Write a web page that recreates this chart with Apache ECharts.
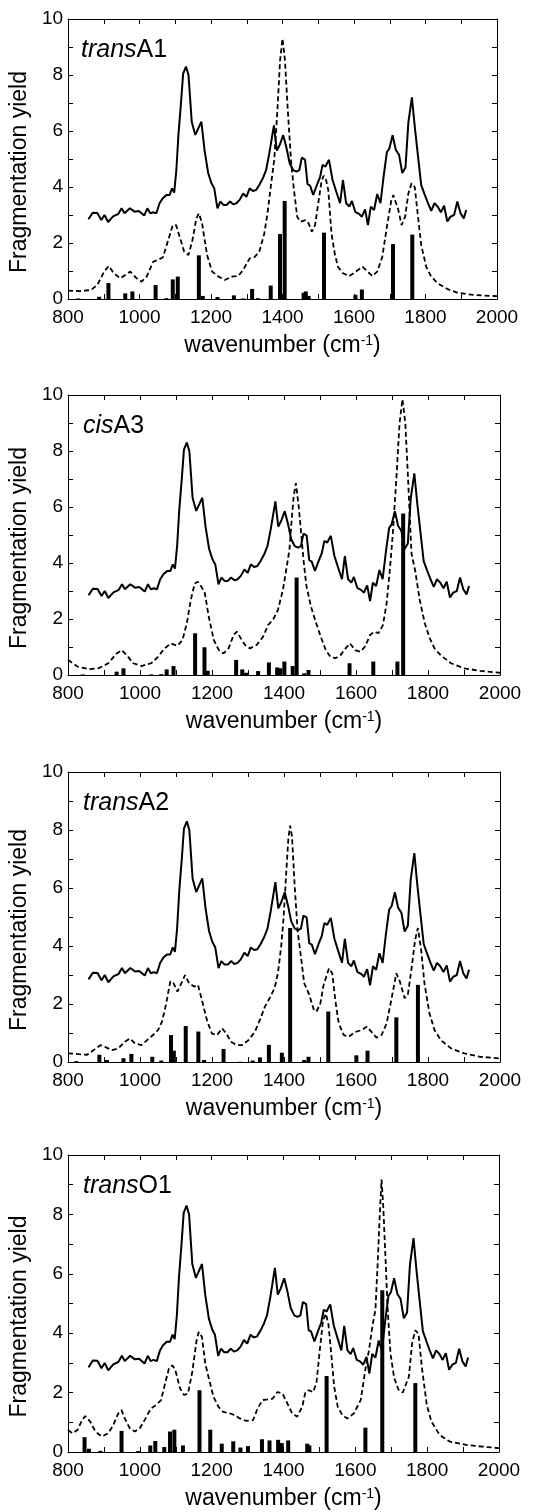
<!DOCTYPE html>
<html>
<head>
<meta charset="utf-8">
<script src="https://cdn.jsdelivr.net/npm/echarts@6/dist/echarts.min.js"></script>
<style>
  html, body { margin: 0; padding: 0; background: #fff; }
  #chart { width: 545px; height: 1512px; }
</style>
</head>
<body>
<div id="chart"></div>
<script>
// measured IRMPD spectrum (same trace in every panel)
var exptSpectrum = [[857,2.85],[869,3.08],[882,3.07],[893,2.82],[902,3.0],[912,2.75],[926,2.95],[940,3.03],[950,3.24],[958,3.06],[973,3.24],[986,3.12],[998,3.14],[1013,2.98],[1022,3.24],[1030,3.06],[1038,3.1],[1047,3.06],[1056,3.42],[1065,3.6],[1075,3.71],[1084,3.71],[1091,3.95],[1097,3.8],[1103,4.6],[1109,5.9],[1116,7.0],[1122,8.05],[1130,8.3],[1137,8.0],[1146,6.33],[1156,5.86],[1173,6.33],[1182,5.3],[1192,4.5],[1201,4.14],[1209,3.95],[1218,3.24],[1226,3.48],[1235,3.36],[1244,3.36],[1253,3.48],[1262,3.38],[1271,3.42],[1280,3.54],[1290,3.77],[1299,3.65],[1308,3.95],[1317,3.86],[1326,3.89],[1335,4.07],[1345,4.31],[1354,4.6],[1363,5.2],[1376,6.2],[1384,5.3],[1392,5.5],[1402,5.85],[1411,5.4],[1420,4.85],[1430,4.6],[1439,4.55],[1447,4.6],[1454,5.05],[1463,4.98],[1470,4.1],[1477,4.05],[1486,3.72],[1496,4.07],[1505,4.35],[1512,4.79],[1520,4.73],[1530,4.97],[1540,4.25],[1550,3.85],[1561,3.42],[1569,4.25],[1578,3.42],[1587,3.3],[1594,3.5],[1604,3.1],[1613,3.05],[1622,2.94],[1631,3.2],[1639,2.64],[1647,3.3],[1656,3.18],[1665,3.75],[1674,3.42],[1683,4.4],[1692,5.25],[1699,5.38],[1708,5.85],[1717,5.32],[1726,5.15],[1735,4.5],[1744,4.7],[1752,6.3],[1762,7.2],[1770,6.15],[1779,5.1],[1788,4.07],[1798,3.72],[1807,3.42],[1816,3.15],[1825,3.42],[1834,3.3],[1843,3.1],[1852,3.33],[1861,2.77],[1870,2.94],[1880,3.0],[1889,3.48],[1898,3.06],[1907,2.88],[1914,3.18]];

// computed spectra (dashed, broadened)
var calcTransA1 = [[800,0.3],[832,0.28],[864,0.32],[882,0.5],[901,0.98],[914,1.18],[928,0.92],[946,0.74],[960,0.86],[974,0.98],[992,0.74],[1006,0.62],[1020,0.8],[1038,1.33],[1052,1.4],[1065,1.48],[1079,2.05],[1093,2.64],[1102,2.64],[1111,2.28],[1125,1.69],[1137,1.57],[1148,2.1],[1159,2.88],[1166,3.06],[1175,2.7],[1189,1.57],[1203,0.98],[1221,0.8],[1239,0.68],[1258,0.8],[1276,0.82],[1290,1.04],[1308,1.45],[1322,1.5],[1335,1.69],[1349,2.34],[1358,3.06],[1367,4.0],[1377,5.0],[1386,6.8],[1393,8.5],[1400,9.3],[1407,8.5],[1414,6.9],[1424,4.9],[1432,3.9],[1441,2.94],[1450,2.76],[1464,2.82],[1473,2.7],[1482,2.4],[1491,2.64],[1500,3.42],[1509,4.2],[1515,4.4],[1521,4.3],[1528,3.89],[1537,2.34],[1546,1.63],[1555,1.15],[1569,0.92],[1587,0.82],[1605,0.98],[1624,1.15],[1638,0.98],[1651,0.82],[1665,0.98],[1679,1.5],[1692,2.58],[1704,3.5],[1710,3.71],[1724,3.18],[1733,2.64],[1743,2.94],[1752,3.77],[1761,4.13],[1770,4.0],[1779,2.94],[1788,1.93],[1802,1.15],[1816,0.8],[1834,0.56],[1862,0.35],[1889,0.23],[1917,0.17],[1963,0.12],[2000,0.1]];
var calcCisA3 = [[800,0.54],[826,0.3],[858,0.21],[885,0.24],[912,0.42],[935,0.77],[949,0.89],[963,0.71],[981,0.42],[1004,0.32],[1031,0.42],[1050,0.65],[1068,0.95],[1086,1.13],[1104,1.04],[1118,1.25],[1130,1.85],[1141,2.68],[1152,3.27],[1161,3.33],[1173,3.1],[1180,2.92],[1191,2.08],[1205,1.25],[1219,0.89],[1232,0.77],[1246,0.95],[1260,1.43],[1269,1.55],[1280,1.31],[1292,1.07],[1305,0.95],[1324,1.07],[1342,1.37],[1356,1.79],[1369,1.96],[1383,2.32],[1397,3.04],[1406,3.75],[1415,4.46],[1421,5.5],[1427,6.4],[1433,6.85],[1441,6.0],[1448,5.0],[1455,4.0],[1462,3.2],[1475,2.44],[1488,1.9],[1502,1.37],[1516,0.89],[1529,0.65],[1543,0.6],[1557,0.71],[1571,0.95],[1583,1.13],[1598,0.89],[1612,0.83],[1625,1.01],[1639,1.43],[1651,1.55],[1662,1.49],[1675,1.79],[1685,2.56],[1694,3.75],[1702,5.0],[1712,7.0],[1721,9.0],[1729,9.85],[1737,9.0],[1745,6.9],[1754,4.35],[1764,3.75],[1777,2.68],[1791,1.85],[1805,1.31],[1818,0.95],[1837,0.68],[1864,0.42],[1900,0.24],[1945,0.15],[2000,0.08]];
var calcTransA2 = [[800,0.3],[830,0.27],[853,0.25],[871,0.41],[890,0.58],[903,0.52],[922,0.41],[940,0.47],[958,0.7],[972,0.81],[986,0.64],[1004,0.58],[1022,0.78],[1036,0.93],[1050,1.1],[1061,1.39],[1072,1.97],[1084,2.77],[1091,2.77],[1104,2.43],[1115,2.72],[1125,3.0],[1136,2.72],[1150,2.6],[1161,2.66],[1173,2.08],[1187,1.39],[1200,0.98],[1214,0.93],[1228,1.16],[1240,0.98],[1252,0.7],[1269,0.58],[1283,0.58],[1301,0.75],[1319,1.04],[1333,1.45],[1347,1.91],[1360,2.2],[1374,2.55],[1383,3.06],[1392,3.97],[1399,5.0],[1406,6.5],[1412,7.7],[1417,8.15],[1422,7.8],[1430,6.0],[1438,4.5],[1447,3.63],[1456,2.72],[1470,2.32],[1483,1.79],[1490,1.74],[1501,2.02],[1510,2.66],[1525,3.23],[1534,3.06],[1543,2.08],[1552,1.33],[1566,0.93],[1580,0.87],[1598,1.04],[1616,1.1],[1630,1.22],[1643,1.04],[1657,0.84],[1671,0.93],[1685,1.33],[1699,2.2],[1712,3.06],[1722,2.77],[1735,2.2],[1744,2.32],[1755,3.29],[1764,4.2],[1772,4.62],[1781,3.86],[1790,2.72],[1804,1.68],[1818,1.1],[1836,0.75],[1864,0.47],[1900,0.3],[1945,0.18],[2000,0.12]];
var calcTransO1 = [[800,0.74],[812,0.63],[826,0.74],[839,1.07],[848,1.21],[862,1.02],[876,0.69],[894,0.52],[912,0.63],[926,0.91],[940,1.3],[949,1.41],[958,1.13],[972,0.8],[986,0.69],[1000,0.8],[1013,1.07],[1031,1.47],[1045,1.58],[1059,1.75],[1068,2.2],[1081,2.81],[1091,2.92],[1100,2.7],[1112,2.14],[1123,1.92],[1134,1.97],[1146,2.7],[1158,3.76],[1164,4.04],[1173,3.87],[1182,2.98],[1191,2.53],[1205,1.86],[1219,1.52],[1232,1.35],[1251,1.3],[1264,1.24],[1278,1.13],[1296,1.05],[1315,1.07],[1328,1.47],[1342,1.75],[1356,1.77],[1370,1.8],[1383,2.02],[1397,1.97],[1411,1.63],[1424,1.3],[1438,1.19],[1452,1.52],[1461,2.02],[1470,2.08],[1483,2.02],[1492,2.36],[1501,3.43],[1510,4.43],[1518,4.66],[1525,4.3],[1532,3.43],[1541,2.2],[1551,1.52],[1564,1.24],[1578,1.13],[1596,1.3],[1615,1.75],[1629,2.87],[1638,3.43],[1647,4.2],[1656,4.8],[1662,6.3],[1668,8.0],[1673,9.17],[1678,8.2],[1683,6.8],[1690,4.8],[1698,3.3],[1708,2.5],[1720,2.1],[1732,2.0],[1749,2.53],[1758,3.65],[1767,4.1],[1776,3.98],[1785,2.87],[1799,1.58],[1812,1.02],[1835,0.57],[1863,0.35],[1909,0.24],[1954,0.18],[2000,0.13]];

// stick spectra (harmonic frequencies / intensities)
var stickTransA1 = [[829,0.02],[887,0.08],[913,0.57],[960,0.2],[980,0.27],[1045,0.5],[1075,0.03],[1093,0.7],[1107,0.8],[1166,1.56],[1177,0.11],[1218,0.07],[1264,0.13],[1290,0.02],[1315,0.36],[1331,0.03],[1367,0.48],[1393,2.32],[1406,3.5],[1459,0.22],[1465,0.27],[1473,0.11],[1516,2.37],[1604,0.15],[1622,0.34],[1709,1.96],[1763,2.3]];
var stickCisA3 = [[841,0.02],[935,0.12],[954,0.24],[1031,0.02],[1059,0.03],[1074,0.2],[1093,0.32],[1153,1.49],[1179,0.99],[1188,0.15],[1267,0.54],[1284,0.2],[1295,0.08],[1328,0.14],[1358,0.45],[1381,0.27],[1390,0.24],[1401,0.48],[1424,0.32],[1435,3.48],[1456,0.06],[1468,0.18],[1582,0.42],[1648,0.48],[1715,0.48],[1731,5.77]];
var stickTransA2 = [[823,0.03],[887,0.25],[908,0.07],[954,0.13],[976,0.28],[1034,0.18],[1059,0.05],[1086,0.93],[1094,0.39],[1127,1.24],[1162,1.05],[1178,0.07],[1232,0.45],[1278,0.01],[1313,0.05],[1333,0.16],[1358,0.59],[1394,0.32],[1417,4.62],[1456,0.07],[1468,0.18],[1523,1.74],[1601,0.23],[1632,0.39],[1712,1.54],[1772,2.66]];
var stickTransO1 = [[846,0.5],[858,0.11],[890,0.04],[949,0.71],[995,0.03],[1029,0.22],[1043,0.37],[1068,0.17],[1084,0.69],[1096,0.75],[1120,0.22],[1166,2.08],[1196,0.75],[1228,0.28],[1260,0.36],[1280,0.15],[1301,0.2],[1340,0.43],[1361,0.39],[1385,0.41],[1395,0.3],[1413,0.39],[1466,0.28],[1472,0.22],[1520,2.56],[1628,0.82],[1675,5.45],[1767,2.32]];

// panel labels: italic prefix + isomer name
var labelPrefix = ['trans', 'cis', 'trans', 'trans'];
var labelName = ['A1', 'A3', 'A2', 'O1'];
var calcSpectra = [calcTransA1, calcCisA3, calcTransA2, calcTransO1];
var stickSpectra = [stickTransA1, stickCisA3, stickTransA2, stickTransO1];

var xRange = [800, 2000];
var yRange = [0, 10];

var FONT = 'Liberation Sans, Arial, Helvetica, sans-serif';
// plot areas
var layout = [
    {left: 60, top: 19, width: 437, height: 280},
    {left: 62, top: 395, width: 438, height: 280},
    {left: 62, top: 772, width: 438, height: 290},
    {left: 62, top: 1155, width: 437, height: 297}
];

var chart = echarts.init(document.getElementById('chart'));

var grids = [], xAxes = [], yAxes = [], series = [], titles = [];
var tick = {inside: true, length: 5, lineStyle: {color: '#000', width: 1}};
var line = {show: true, onZero: false, lineStyle: {color: '#000', width: 1}};

for (var i = 0; i < 4; i++) {
    var g = layout[i];
    grids.push({left: g.left, top: g.top, width: g.width, height: g.height, containLabel: false});

    // bottom x axis with labels
    xAxes.push({
        gridIndex: i, type: 'value', position: 'bottom',
        min: xRange[0], max: xRange[1], interval: 100,
        axisLine: line, axisTick: tick, splitLine: {show: false},
        axisLabel: {
            color: '#000', fontSize: 19, fontFamily: FONT, margin: 9,
            formatter: function (v) { return v % 200 === 0 ? String(v) : ''; }
        },
        name: '{a|wavenumber (cm}{s|-1}{a|)}',
        nameLocation: 'middle', nameGap: 35,
        nameTextStyle: {
            rich: {
                a: {fontSize: 23, fontFamily: FONT, color: '#000'},
                s: {fontSize: 14, fontFamily: FONT, color: '#000', verticalAlign: 'top'}
            }
        }
    });
    // top x axis, frame only
    xAxes.push({
        gridIndex: i, type: 'value', position: 'top',
        min: xRange[0], max: xRange[1], interval: 100,
        axisLine: line, axisTick: tick, axisLabel: {show: false}, splitLine: {show: false}
    });
    // left y axis
    yAxes.push({
        gridIndex: i, type: 'value', position: 'left',
        min: yRange[0], max: yRange[1], interval: 1,
        axisLine: line, axisTick: tick, splitLine: {show: false},
        axisLabel: {
            color: '#000', fontSize: 19, fontFamily: FONT, margin: 5,
            formatter: function (v) { return v % 2 === 0 ? String(v) : ''; }
        },
        name: 'Fragmentation yield', nameLocation: 'middle', nameGap: 28,
        nameTextStyle: {fontSize: 23, fontFamily: FONT, color: '#000', padding: [0, 26, 0, 0]}
    });
    // right y axis, frame only
    yAxes.push({
        gridIndex: i, type: 'value', position: 'right',
        min: yRange[0], max: yRange[1], interval: 1,
        axisLine: line, axisTick: tick, axisLabel: {show: false}, splitLine: {show: false}
    });

    series.push({
        type: 'bar', xAxisIndex: 2 * i, yAxisIndex: 2 * i,
        data: stickSpectra[i], barWidth: 4,
        itemStyle: {color: '#000'}, silent: true
    });
    series.push({
        type: 'line', xAxisIndex: 2 * i, yAxisIndex: 2 * i,
        data: calcSpectra[i], symbol: 'none',
        lineStyle: {color: '#000', width: 1.8, type: [5, 3]}
    });
    series.push({
        type: 'line', xAxisIndex: 2 * i, yAxisIndex: 2 * i,
        data: exptSpectrum, symbol: 'none',
        lineStyle: {color: '#000', width: 2}
    });

    titles.push({
        text: '{i|' + labelPrefix[i] + '}{n|' + labelName[i] + '}',
        left: g.left + 21, top: g.top + 19, padding: 0,
        textStyle: {
            fontWeight: 'normal',
            rich: {
                i: {fontSize: 25, fontStyle: 'italic', fontWeight: 'normal', fontFamily: FONT, color: '#000'},
                n: {fontSize: 25, fontWeight: 'normal', fontFamily: FONT, color: '#000'}
            }
        }
    });
}

chart.setOption({
    animation: false,
    backgroundColor: '#fff',
    title: titles,
    grid: grids,
    xAxis: xAxes,
    yAxis: yAxes,
    series: series
});
</script>
</body>
</html>
